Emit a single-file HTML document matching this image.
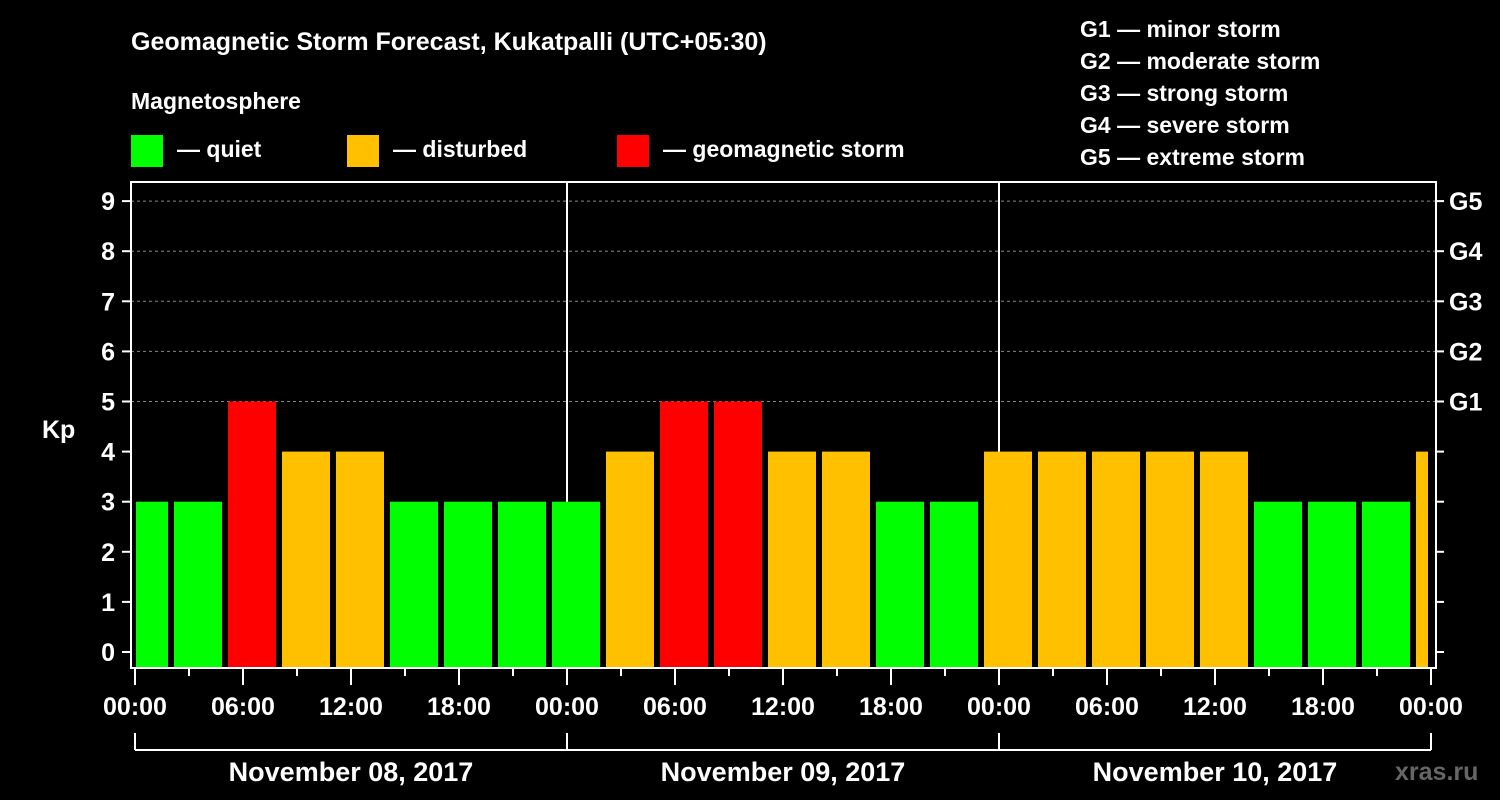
<!DOCTYPE html>
<html><head><meta charset="utf-8"><style>
body{margin:0;background:#000;}
svg{display:block;font-family:"Liberation Sans",sans-serif;font-weight:bold;}
</style></head><body>
<svg id="chart" width="1500" height="800" viewBox="0 0 1500 800">
<rect width="1500" height="800" fill="#000"/>
<text x="131" y="50" fill="#fff" font-size="25">Geomagnetic Storm Forecast, Kukatpalli (UTC+05:30)</text>
<text x="131" y="109" fill="#fff" font-size="23">Magnetosphere</text>
<g><rect x="131" y="135" width="32" height="32" fill="#00ff00"/><text x="177" y="157" fill="#fff" font-size="23">— quiet</text></g>
<g><rect x="347" y="135" width="32" height="32" fill="#ffc000"/><text x="393" y="157" fill="#fff" font-size="23">— disturbed</text></g>
<g><rect x="617" y="135" width="32" height="32" fill="#ff0000"/><text x="663" y="157" fill="#fff" font-size="23">— geomagnetic storm</text></g>
<g fill="#fff" font-size="23">
<text x="1080" y="37">G1 — minor storm</text>
<text x="1080" y="69">G2 — moderate storm</text>
<text x="1080" y="101">G3 — strong storm</text>
<text x="1080" y="133">G4 — severe storm</text>
<text x="1080" y="165">G5 — extreme storm</text>
</g>
<g id="grid"></g>
<g id="bars"></g>
<rect x="131" y="182" width="1305" height="486" fill="none" stroke="#fff" stroke-width="2"/>
<g id="axes"></g>
<text x="42" y="438" fill="#fff" font-size="25">Kp</text>
<text x="1395" y="780" fill="#666" font-size="25">xras.ru</text>
</svg>
<script>
const kpValues=[3,3,5,4,4,3,3,3,3,4,5,5,4,4,3,3,4,4,4,4,4,3,3,3,4];
const yTicks=[0,1,2,3,4,5,6,7,8,9];
const gLabels=["G1","G2","G3","G4","G5"];
const gLevels=[5,6,7,8,9];
const xTickLabels=["00:00","06:00","12:00","18:00","00:00","06:00","12:00","18:00","00:00","06:00","12:00","18:00","00:00"];
const dayLabels=["November 08, 2017","November 09, 2017","November 10, 2017"];
const NS="http://www.w3.org/2000/svg";
const x0=135,pxH=18,yBase=652,pxK=50.1,plotL=131,plotR=1436,plotB=668,plotT=182;
const X=h=>x0+h*pxH;
const Y=k=>yBase-k*pxK;
function mk(tag,attrs,parent){const e=document.createElementNS(NS,tag);for(const k in attrs)e.setAttribute(k,attrs[k]);parent.appendChild(e);return e;}
const grid=document.getElementById('grid'),bars=document.getElementById('bars'),axes=document.getElementById('axes');
gLevels.forEach(k=>{const l=mk('line',{x1:plotL,x2:plotR,y1:Y(k),y2:Y(k),stroke:'#888','stroke-dasharray':'3,3','stroke-width':1},grid);

});
[24,48].forEach(h=>{const l=mk('line',{x1:X(h),x2:X(h),y1:plotT,y2:plotB,stroke:'#fff','stroke-width':2},grid);

});
function color(k){return k>=5?'#ff0000':k>=4?'#ffc000':'#00ff00';}
kpValues.forEach((k,i)=>{
 const hs=-1+3*i,he=hs+3;
 let xa=X(hs)+3,xb=X(he)-3;
 xa=Math.max(xa,X(0)+1);xb=Math.min(xb,X(72)-3);
 const r=mk('rect',{x:xa,y:Y(k),width:xb-xa,height:plotB-Y(k),fill:color(k)},bars);
 
 
});
yTicks.forEach(k=>{
 mk('line',{x1:122,x2:plotL,y1:Y(k),y2:Y(k),stroke:'#fff','stroke-width':2},axes);
 mk('line',{x1:plotR,x2:plotR+8,y1:Y(k),y2:Y(k),stroke:'#fff','stroke-width':2},axes);
 const t=mk('text',{x:115,y:Y(k)+9,fill:'#fff','font-size':25,'text-anchor':'end'},axes);t.textContent=k;
 
 
});
gLabels.forEach((g,i)=>{const t=mk('text',{x:1449,y:Y(gLevels[i])+9,fill:'#fff','font-size':25},axes);t.textContent=g;
 
 });
for(let h=0;h<=72;h+=3){const major=h%6===0;mk('line',{x1:X(h),x2:X(h),y1:plotB,y2:plotB+(major?17:8),stroke:'#fff','stroke-width':2},axes);}
xTickLabels.forEach((s,i)=>{const t=mk('text',{x:X(i*6),y:715,fill:'#fff','font-size':25,'text-anchor':'middle'},axes);t.textContent=s;
 
 });
mk('line',{x1:X(0),x2:X(72),y1:750,y2:750,stroke:'#fff','stroke-width':2},axes);
[0,24,48,72].forEach(h=>mk('line',{x1:X(h),x2:X(h),y1:733,y2:750,stroke:'#fff','stroke-width':2},axes));
dayLabels.forEach((s,i)=>{const t=mk('text',{x:X(i*24+12),y:781,fill:'#fff','font-size':27,'text-anchor':'middle'},axes);t.textContent=s;
 
 });
</script>
</body></html>
